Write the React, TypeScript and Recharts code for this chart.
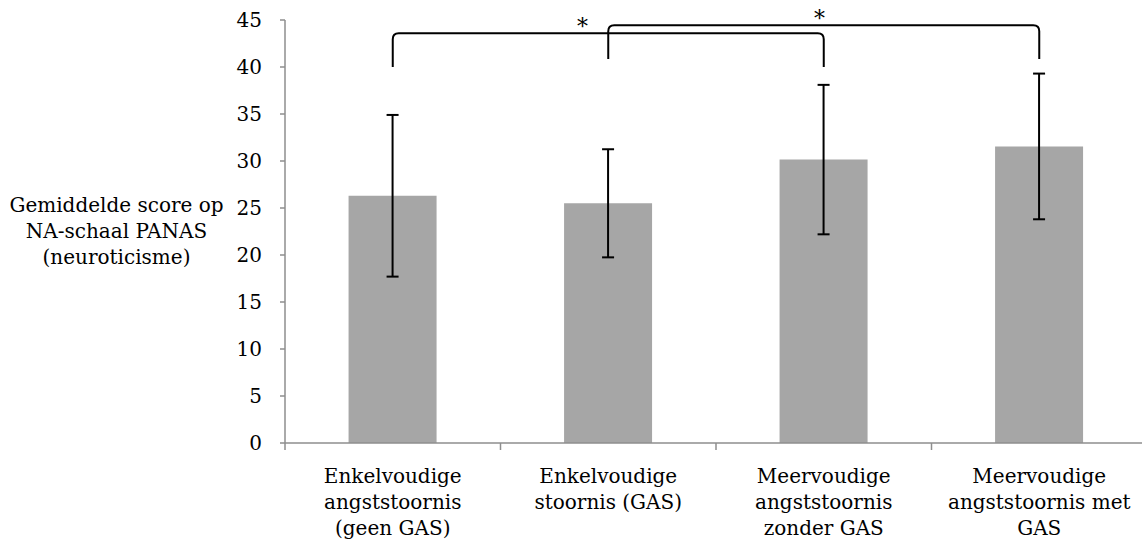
import React from 'react';
import { BarChart, Bar, XAxis, YAxis, ErrorBar, ReferenceLine } from 'recharts';

const FONT = '"DejaVu Serif", serif';
const AXIS = '#8e8e8e';

const categories = [
    'Enkelvoudige\nangststoornis\n(geen GAS)',
    'Enkelvoudige\nstoornis (GAS)',
    'Meervoudige\nangststoornis\nzonder GAS',
    'Meervoudige\nangststoornis met\nGAS',
];
const means = [26.3, 25.5, 30.15, 31.55];
const sds = [8.6, 5.75, 7.95, 7.75];
const yTicks = [0, 5, 10, 15, 20, 25, 30, 35, 40, 45];
const yLabelLines = ['Gemiddelde score op', 'NA-schaal PANAS', '(neuroticisme)'];

// significance brackets: from/to category index, low/high y-values, star = where the * sits along it
const brackets = [
    { from: 0, to: 2, low: 40, high: 43.6, star: 0.44 },
    { from: 1, to: 3, low: 40.85, high: 44.45, star: 0.49 },
];

const data = categories.map((name, i) => ({ name, mean: means[i], sd: sds[i] }));

const CHART_W = 1148;
const Y_AXIS_W = 285;
const MARGIN_R = 1;
const BAND = (CHART_W - Y_AXIS_W - MARGIN_R) / categories.length;

const CategoryTick = ({ x, y, payload, index }: any) => {
    const lines = String(payload.value).split('\n');
    const left = x - BAND / 2;
    return (
        <g>
            <line x1={left} y1={y} x2={left} y2={y + 7} stroke={AXIS} strokeWidth={1.5} />
            {index === categories.length - 1 && (
                <line x1={x + BAND / 2} y1={y} x2={x + BAND / 2} y2={y + 7} stroke={AXIS} strokeWidth={1.5} />
            )}
            <text x={x} y={y} textAnchor="middle" fontFamily={FONT} fontSize={20} fill="#000">
                {lines.map((l, i) => (
                    <tspan key={i} x={x} dy={i === 0 ? 40 : 26}>
                        {l}
                    </tspan>
                ))}
            </text>
        </g>
    );
};

const YLabel = (props: any) => {
    const vb = props.viewBox || { x: 0, y: 0, width: 0, height: 0 };
    const cx = vb.x + 116.5;
    const cy = vb.y + vb.height / 2 + 6.5;
    return (
        <text x={cx} y={cy} textAnchor="middle" fontFamily={FONT} fontSize={20} fill="#000">
            {yLabelLines.map((l, i) => (
                <tspan key={i} x={cx} y={cy + (i - 1) * 26}>
                    {l}
                </tspan>
            ))}
        </text>
    );
};

const bracketShape = (star: number) => (p: any) => {
    const { x1, y1, x2, y2 } = p;
    const r = 6;
    const d = `M${x1},${y1} L${x1},${y2 + r} Q${x1},${y2} ${x1 + r},${y2} L${x2 - r},${y2} Q${x2},${y2} ${x2},${y2 + r} L${x2},${y1}`;
    return (
        <g>
            <path d={d} fill="none" stroke="#000" strokeWidth={2} />
            <text x={x1 + (x2 - x1) * star} y={y2 + 1} textAnchor="middle" fontFamily={FONT} fontSize={22} fill="#000">
                *
            </text>
        </g>
    );
};

export default function App() {
    return (
        <div style={{ position: 'absolute', left: 0, top: 0, width: 1142, height: 542, overflow: 'hidden' }}>
            <BarChart
                width={CHART_W}
                height={542}
                data={data}
                margin={{ top: 20, right: MARGIN_R, bottom: 0, left: 0 }}
                barCategoryGap="29.5%"
            >
                <XAxis
                    dataKey="name"
                    axisLine={{ stroke: AXIS, strokeWidth: 1.5 }}
                    tickLine={false}
                    tickSize={0}
                    tickMargin={0}
                    interval={0}
                    height={99}
                    tick={<CategoryTick />}
                />
                <YAxis
                    width={Y_AXIS_W}
                    domain={[0, 45]}
                    ticks={yTicks}
                    interval={0}
                    tickSize={5}
                    tickMargin={18}
                    stroke={AXIS}
                    strokeWidth={1.5}
                    tick={{ fill: '#000', fontSize: 20, fontFamily: FONT }}
                    label={(props: any) => <YLabel {...props} />}
                />
                <Bar dataKey="mean" fill="#a6a6a6" isAnimationActive={false}>
                    <ErrorBar dataKey="sd" direction="y" width={6} stroke="#000" strokeWidth={2} />
                </Bar>
                {brackets.map((b, i) => (
                    <ReferenceLine
                        key={i}
                        segment={[
                            { x: categories[b.from], y: b.low },
                            { x: categories[b.to], y: b.high },
                        ]}
                        shape={bracketShape(b.star)}
                    />
                ))}
            </BarChart>
        </div>
    );
}
